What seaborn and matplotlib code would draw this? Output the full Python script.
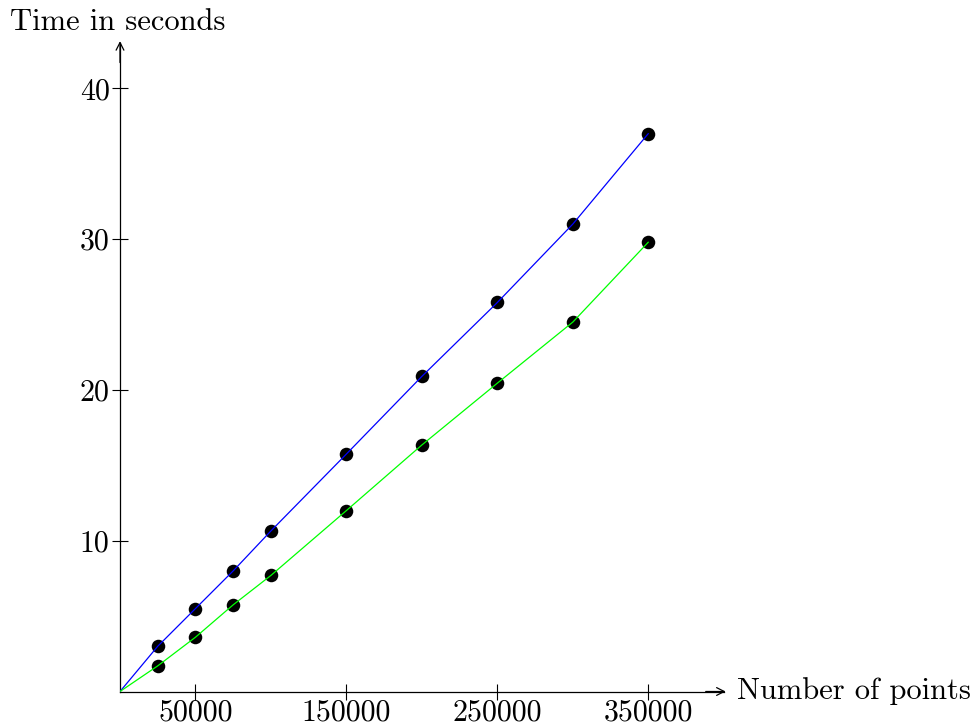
import matplotlib
matplotlib.use("Agg")
import matplotlib.pyplot as plt
import seaborn as sns
import pandas as pd

# ---- data ----
points = [25000, 50000, 75000, 100000, 150000, 200000, 250000, 300000, 350000]
time_blue = [3.0, 5.5, 8.0, 10.65, 15.75, 20.9, 25.8, 31.0, 37.0]
time_green = [1.7, 3.6, 5.75, 7.7, 12.0, 16.35, 20.45, 24.5, 29.8]
x_ticks = [50000, 150000, 250000, 350000]
x_tick_labels = ["50000", "150000", "250000", "350000"]
y_ticks = [10, 20, 30, 40]
y_tick_labels = ["10", "20", "30", "40"]

sns.set_style("white")
plt.rcParams["font.family"] = ["cmr10", "DejaVu Serif"]
plt.rcParams["axes.formatter.use_mathtext"] = True
plt.rcParams["mathtext.fontset"] = "cm"
plt.rcParams["text.color"] = "black"

W, H = 977, 727
fig = plt.figure(figsize=(W / 100, H / 100), dpi=100)
x0, y0 = 120, 691.5
xmax, ymax = 400000, 43
xr, yr = 603.8, 648.4
ax = fig.add_axes([x0 / W, (H - y0) / H, xr / W, yr / H])

line_df = pd.concat([
    pd.DataFrame({"points": [0] + points, "time": [0] + time_blue, "series": "blue"}),
    pd.DataFrame({"points": [0] + points, "time": [0] + time_green, "series": "green"}),
])
mark_df = pd.concat([
    pd.DataFrame({"points": points, "time": time_blue, "series": "blue"}),
    pd.DataFrame({"points": points, "time": time_green, "series": "green"}),
])

sns.scatterplot(data=mark_df, x="points", y="time", color="black", s=95,
                edgecolor="black", linewidth=0, ax=ax, zorder=2, legend=False)
sns.lineplot(data=line_df, x="points", y="time", hue="series",
             palette={"blue": "#0000ff", "green": "#00ff00"}, linewidth=0.9,
             ax=ax, zorder=3, legend=False, sort=False)

ax.set_xlim(0, xmax)
ax.set_ylim(0, ymax)
for s in ["top", "right"]:
    ax.spines[s].set_visible(False)
for s in ["left", "bottom"]:
    ax.spines[s].set_linewidth(0.9)
    ax.spines[s].set_color("black")

ax.set_xticks(x_ticks)
ax.set_xticklabels(x_tick_labels)
ax.set_yticks(y_ticks)
ax.set_yticklabels(y_tick_labels)
ax.tick_params(axis="both", direction="inout", length=11, width=0.8,
               labelsize=21.5, colors="black", bottom=True, left=True)
ax.tick_params(axis="x", pad=0)
ax.tick_params(axis="y", pad=2)
ax.set_xlabel("")
ax.set_ylabel("")

# arrow heads
astyle = "->,head_length=0.55,head_width=0.28"
ax.annotate("", xy=(1.003, 0), xytext=(0.97, 0), xycoords="axes fraction",
            arrowprops=dict(arrowstyle=astyle, lw=0.9, color="black", shrinkA=0, shrinkB=0),
            annotation_clip=False)
ax.annotate("", xy=(0, 1.003), xytext=(0, 0.97), xycoords="axes fraction",
            arrowprops=dict(arrowstyle=astyle, lw=0.9, color="black", shrinkA=0, shrinkB=0),
            annotation_clip=False)

fig.text(737 / W, 1 - 691 / H, "Number of points", fontsize=22, ha="left", va="center",
         color="black")
fig.text(10 / W, 1 - 22 / H, "Time in seconds", fontsize=22, ha="left", va="center",
         color="black")

fig.savefig("out.png", dpi=100)
